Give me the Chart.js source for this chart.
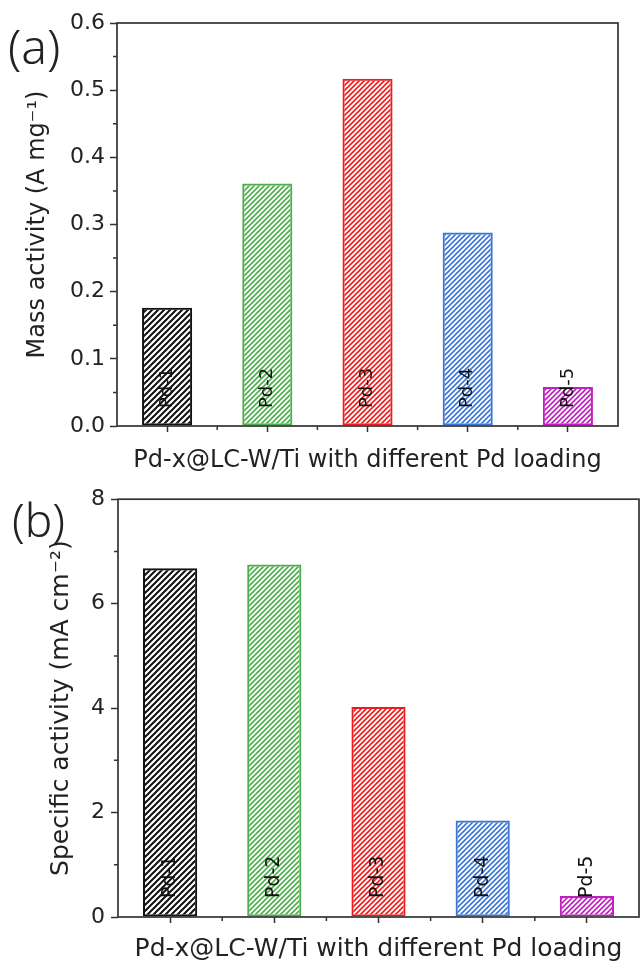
<!DOCTYPE html>
<html>
<head>
<meta charset="utf-8">
<title>Pd-x@LC-W/Ti activity</title>
<script src="https://cdn.jsdelivr.net/npm/chart.js@4.4.1/dist/chart.umd.min.js"></script>
<style>
    body { margin: 0; background: #fff; }
    #page { position: relative; width: 641px; height: 965px; overflow: hidden; }
    .panel { position: absolute; left: 0; }
    .tag {
        position: absolute;
        font-family: 'Noto Sans', sans-serif;
        font-weight: 300;
        line-height: 1;
        color: #222;
    }
</style>
</head>
<body>
<div id="page">
    <canvas id="massChart" class="panel" width="641" height="480" style="top:0"></canvas>
    <canvas id="specChart" class="panel" width="641" height="485" style="top:480px"></canvas>
    <div class="tag" style="left:8px; top:22px; font-size:48px;">(a)</div>
    <div class="tag" style="left:12px; top:496px; font-size:46px;">(b)</div>
</div>

<script>
// samples and measured activities
const samples = ['Pd-1', 'Pd-2', 'Pd-3', 'Pd-4', 'Pd-5'];
const massActivity = [0.176, 0.361, 0.517, 0.288, 0.058];      // A mg-1
const specificActivity = [6.68, 6.75, 4.02, 1.85, 0.40];      // mA cm-2
const massTicks = [0, 0.1, 0.2, 0.3, 0.4, 0.5, 0.6];
const specTicks = [0, 2, 4, 6, 8];
const barColors = ['#111111', '#4cae4c', '#ee1c1c', '#3b76d6', '#c020c0'];

const FONT = 'DejaVu Sans';
const INK = '#222';

// diagonal "/" hatch used to fill every bar
function makeHatch(color, size, width) {
    const tile = document.createElement('canvas');
    tile.width = size;
    tile.height = size;
    const c = tile.getContext('2d');
    c.strokeStyle = color;
    c.lineWidth = width;
    c.beginPath();
    c.moveTo(-1, 1); c.lineTo(1, -1);
    c.moveTo(0, size); c.lineTo(size, 0);
    c.moveTo(size - 1, size + 1); c.lineTo(size + 1, size - 1);
    c.stroke();
    return c.createPattern(tile, 'repeat');
}

// closed box around the plot + the small in-between ticks
const framePlugin = {
    id: 'frame',
    afterDraw(chart) {
        const { ctx, chartArea: a, scales } = chart;
        ctx.save();
        ctx.strokeStyle = '#333';
        ctx.lineWidth = 1.7;
        ctx.strokeRect(a.left, a.top, a.right - a.left, a.bottom - a.top);

        ctx.lineWidth = 1.5;
        ctx.beginPath();
        const yt = scales.y.ticks;
        for (let i = 0; i < yt.length - 1; i++) {
            const py = scales.y.getPixelForValue((yt[i].value + yt[i + 1].value) / 2);
            ctx.moveTo(a.left, py);
            ctx.lineTo(a.left - 4, py);
        }
        for (let i = 0; i < samples.length - 1; i++) {
            const px = scales.x.getPixelForValue(i + 0.5);
            ctx.moveTo(px, a.bottom);
            ctx.lineTo(px, a.bottom + 4);
        }
        ctx.stroke();
        ctx.restore();
    }
};

// sample names written upright inside each bar, just above the axis
const barLabelPlugin = {
    id: 'barLabels',
    afterDatasetsDraw(chart, args, opts) {
        const { ctx, scales } = chart;
        const meta = chart.getDatasetMeta(0);
        const base = scales.y.getPixelForValue(0);
        ctx.save();
        ctx.fillStyle = '#111';
        ctx.font = opts.size + 'px "' + FONT + '"';
        ctx.textAlign = 'left';
        ctx.textBaseline = 'middle';
        meta.data.forEach((bar, i) => {
            ctx.save();
            ctx.translate(bar.x, base - opts.gap);
            ctx.rotate(-Math.PI / 2);
            ctx.fillText(samples[i], 0, 0);
            ctx.restore();
        });
        ctx.restore();
    }
};

function buildChart(id, cfg) {
    const ctx = document.getElementById(id).getContext('2d');
    const hatches = barColors.map((col, i) => i === 0 ? makeHatch(col, 6, 2) : makeHatch(col, 5, 1.6));
    return new Chart(ctx, {
        type: 'bar',
        data: {
            labels: samples,
            datasets: [{
                data: cfg.values,
                backgroundColor: hatches,
                borderColor: barColors,
                borderWidth: 2,
                borderSkipped: false,
                barPercentage: cfg.barPct,
                categoryPercentage: 1
            }]
        },
        options: {
            responsive: false,
            maintainAspectRatio: false,
            animation: false,
            layout: { padding: cfg.padding },
            plugins: {
                legend: { display: false },
                tooltip: { enabled: false },
                barLabels: { size: cfg.labelSize, gap: cfg.labelGap }
            },
            scales: {
                x: {
                    offset: true,
                    border: { display: false },
                    grid: {
                        offset: false,
                        drawOnChartArea: false,
                        tickLength: 6,
                        tickColor: '#333',
                        tickWidth: 1.5
                    },
                    ticks: { display: false },
                    title: {
                        display: true,
                        text: 'Pd-x@LC-W/Ti with different Pd loading',
                        color: INK,
                        font: { family: FONT, size: cfg.titleSize },
                        padding: { top: 0, bottom: cfg.xTitlePad }
                    },
                    afterFit: scale => { scale.height = cfg.xHeight; }
                },
                y: {
                    min: cfg.ticks[0],
                    max: cfg.ticks[cfg.ticks.length - 1],
                    border: { display: false },
                    grid: {
                        drawOnChartArea: false,
                        tickLength: 7,
                        tickColor: '#333',
                        tickWidth: 1.5
                    },
                    ticks: {
                        stepSize: cfg.ticks[1] - cfg.ticks[0],
                        padding: cfg.tickPad,
                        color: INK,
                        font: { family: FONT, size: cfg.tickSize },
                        callback: cfg.fmt
                    },
                    title: {
                        display: true,
                        text: cfg.yTitle,
                        color: INK,
                        font: { family: FONT, size: cfg.titleSize },
                        padding: { top: cfg.yTitlePad, bottom: 0 }
                    },
                    afterFit: scale => { scale.width = cfg.yWidth; }
                }
            }
        },
        plugins: [framePlugin, barLabelPlugin]
    });
}

// (a) mass activity
buildChart('massChart', {
    values: massActivity,
    ticks: massTicks,
    fmt: v => v.toFixed(1),
    yTitle: 'Mass activity (A mg⁻¹)',
    barPct: 0.5,
    padding: { left: 0, right: 23, top: 23, bottom: 0 },
    yWidth: 117,
    xHeight: 54,
    yTitlePad: 23,
    xTitlePad: 5,
    titleSize: 24,
    tickSize: 22,
    tickPad: 5,
    labelSize: 18,
    labelGap: 18
});

// (b) specific activity
buildChart('specChart', {
    values: specificActivity,
    ticks: specTicks,
    fmt: v => v.toFixed(0),
    yTitle: 'Specific activity (mA cm⁻²)',
    barPct: 0.52,
    padding: { left: 0, right: 2, top: 14, bottom: 0 },
    yWidth: 118,
    xHeight: 48,
    yTitlePad: 46,
    xTitlePad: 1,
    titleSize: 25,
    tickSize: 22,
    tickPad: 6,
    labelSize: 19,
    labelGap: 19
});
</script>
</body>
</html>
